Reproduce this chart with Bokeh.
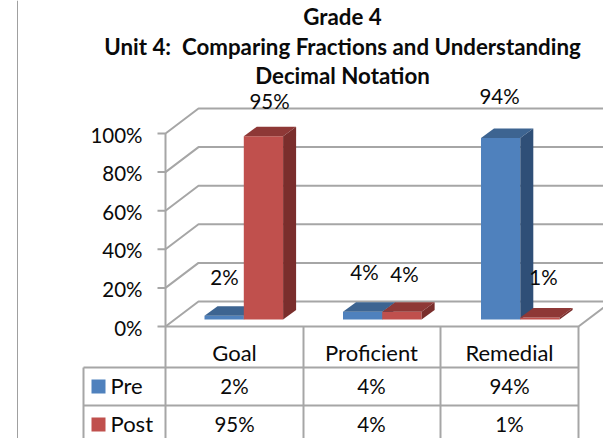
from bokeh.plotting import figure
from bokeh.embed import file_html
from bokeh.resources import INLINE
from bokeh.core.properties import value

title_lines = ["Grade 4", "Unit 4:\u00a0 Comparing Fractions and Understanding", "Decimal Notation"]
categories = ["Goal", "Proficient", "Remedial"]
series = ["Pre", "Post"]
pre = [2, 4, 94]
post = [95, 4, 1]
y_ticks = [0, 20, 40, 60, 80, 100]
y_labels = ["0%", "20%", "40%", "60%", "80%", "100%"]

FONT = value("Lato")
GRID = "#a6a6a6"
W, H = 603, 438
PAGE = 0
ZERO_PX, PX_PER_PCT = 326, 1.93


def Y(px):
    return (ZERO_PX - px) / PX_PER_PCT


p = figure(width=W, height=H, x_range=(PAGE, PAGE + W), y_range=(Y(PAGE + H), Y(PAGE)),
           output_backend="svg", toolbar_location=None, min_border=0,
           outline_line_color=None, background_fill_color="white", x_axis_type="linear")
p.xaxis.visible = False
p.yaxis.visible = False
p.grid.visible = False

LEFT, RIGHT = 165, 578
DX, DY = 33, 25 / PX_PER_PCT
COLS = [165, 303, 440, 578]

# outer chart border
p.segment([17], [Y(0)], [17], [Y(438)], line_color="#a0a0a0", line_width=1)

# walls and floor
for t in y_ticks:
    p.line([LEFT - 8, LEFT, LEFT + DX, RIGHT + DX], [t, t, t + DY, t + DY], line_color=GRID, line_width=2)
p.line([LEFT, LEFT], [0, 100], line_color=GRID, line_width=2)
p.line([LEFT, RIGHT, RIGHT + DX], [0, 0, DY], line_color=GRID, line_width=2)

# table
for x in COLS:
    p.line([x, x], [0, Y(438)], line_color=GRID, line_width=2)
p.line([83, 83], [Y(367), Y(438)], line_color=GRID, line_width=2)
for py in (367, 405):
    p.line([83, RIGHT], [Y(py), Y(py)], line_color=GRID, line_width=2)

# bars
BASE = Y(319)
BW = 39.3
STARTS = [204, 342.5, 480.5]
BDX, BDY = 13, 9.5 / PX_PER_PCT
STYLES = {"Pre": ("#4f81bd", "#3d6491", "#2f4f77"), "Post": ("#c0504d", "#8e3836", "#7a2e2c")}
for i, cat in enumerate(categories):
    for j, (name, vals) in enumerate(zip(series, (pre, post))):
        x0 = STARTS[i] + j * BW
        x1 = x0 + BW
        top = BASE + vals[i]
        front, upper, side = STYLES[name]
        p.quad(left=[x0], right=[x1], bottom=[BASE], top=[top], fill_color=front, line_color=None)
        p.patch([x0, x0 + BDX, x1 + BDX, x1], [top, top + BDY, top + BDY, top], fill_color=upper, line_color=None)
        p.patch([x1, x1 + BDX, x1 + BDX, x1], [BASE, BASE + BDY, top + BDY, top], fill_color=side, line_color=None)


def txt(x, py, s, size="20.5px", align="center", style="normal"):
    p.text([x], [Y(py)], text=[s], text_font=FONT, text_font_size=size, text_align=align,
           text_baseline="middle", text_color="#0a0a0a", text_font_style=style)


# title
for py, line in zip((15.5, 45.5, 74.5), title_lines):
    txt(342, py, line, size="22.3px", style="bold")

# y tick labels
for t, lab in zip(y_ticks, y_labels):
    txt(142, ZERO_PX - t * PX_PER_PCT + 1, lab, align="right")

# data labels
LABEL_POS = {"Pre": [(224, 276.5), (364, 271), (499, 95.5)], "Post": [(269, 100.5), (404, 273), (543, 276)]}
for name, vals in zip(series, (pre, post)):
    for (x, py), v in zip(LABEL_POS[name], vals):
        txt(x, py, f"{v}%")

# table text
CENTERS = [234, 371, 509]
for cx, cat in zip(CENTERS, categories):
    txt(cx, 352, cat, size="22px")
for py, name, vals in zip((385, 423), series, (pre, post)):
    p.quad(left=[91], right=[105], bottom=[Y(py + 8)], top=[Y(py - 6)], fill_color=STYLES[name][0], line_color=None)
    txt(110, py, name, size="22px", align="left")
    for cx, v in zip(CENTERS, vals):
        txt(cx, py, f"{v}%")

open("out.html", "w").write(file_html(p, INLINE))
